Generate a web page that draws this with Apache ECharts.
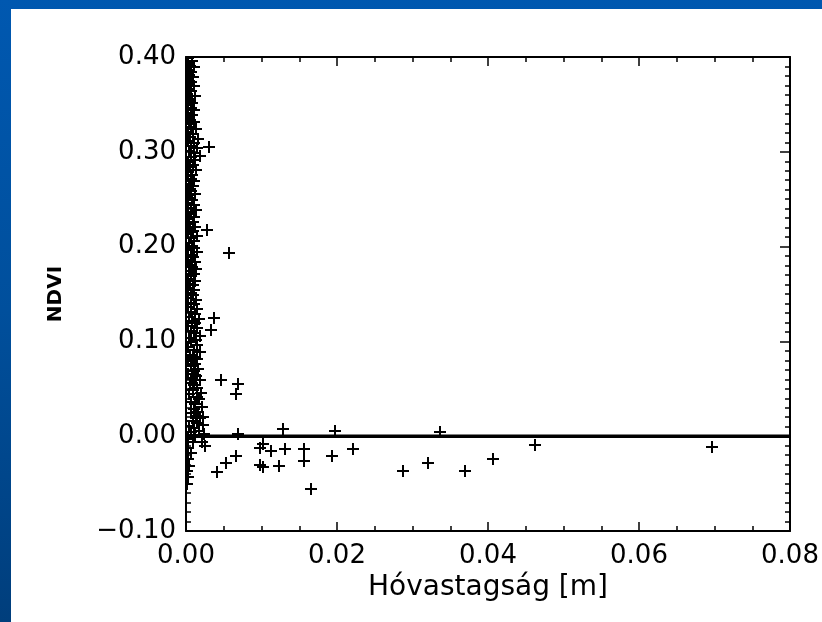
<!DOCTYPE html>
<html>
<head>
<meta charset="utf-8">
<script src="https://cdn.jsdelivr.net/npm/echarts@6/dist/echarts.min.js"></script>
<style>
  html, body { margin:0; padding:0; width:822px; height:622px; overflow:hidden; }
  body { background: linear-gradient(to bottom, #0058b0 0%, #004f9c 50%, #003e7c 100%); position:relative; }
  #paper { position:absolute; left:11px; top:9px; right:0; bottom:0; background:#ffffff; }
  #chart { position:absolute; left:0; top:0; width:822px; height:622px; }
</style>
</head>
<body>
<div id="paper"></div>
<div id="chart"></div>
<script>
// Dense group of observations with (almost) no snow: snow depth [m] and NDVI
var clusterDepth = [
  0.0003,0.0008,0.0001,0.0005,0.0011,0.0002,0.0007,0.0004,0.0009,0.0001,
  0.0006,0.0002,0.0010,0.0004,0.0007,0.0001,0.0012,0.0005,0.0003,0.0008,
  0.0002,0.0006,0.0010,0.0003,0.0008,0.0001,0.0005,0.0011,0.0004,0.0007,
  0.0013,0.0002,0.0009,0.0005,0.0016,0.0003,0.0011,0.0007,0.0014,0.0004,
  0.0010,0.0018,0.0006,0.0012,0.0002,0.0009,0.0005,0.0013,0.0003,0.0008,
  0.0001,0.0007,0.0011,0.0004,0.0009,0.0002,0.0006,0.0012,0.0005,0.0003,
  0.0008,0.0002,0.0010,0.0006,0.0013,0.0003,0.0007,0.0011,0.0004,0.0009,
  0.0002,0.0012,0.0005,0.0009,0.0003,0.0014,0.0007,0.0010,0.0004,0.0008,
  0.0011,0.0003,0.0015,0.0006,0.0009,0.0002,0.0012,0.0005,0.0008,0.0013,
  0.0004,0.0010,0.0007,0.0002,0.0012,0.0005,0.0009,0.0003,0.0011,0.0006,
  0.0009,0.0003,0.0013,0.0006,0.0010,0.0002,0.0015,0.0007,0.0012,0.0004,
  0.0017,0.0008,0.0012,0.0003,0.0015,0.0006,0.0010,0.0019,0.0004,0.0013,
  0.0007,0.0014,0.0003,0.0011,0.0018,0.0005,0.0009,0.0015,0.0002,0.0012,
  0.0006,0.0016,0.0010,0.0003,0.0013,0.0008,0.0019,0.0005,0.0011,0.0015,
  0.0009,0.0020,0.0004,0.0014,0.0017,0.0007,0.0012,0.0021,0.0010,0.0016,
  0.0006,0.0013,0.0018,0.0009,0.0015,0.0004,0.0011,0.0017,0.0007,0.0012,
  0.0002,0.0009,0.0003,0.0006,0.0002,0.0004,0.0001,0.0003,0.0001
];
var clusterNdvi = [
  0.399,0.396,0.394,0.391,0.389,0.386,0.384,0.381,0.379,0.376,
  0.374,0.371,0.369,0.366,0.364,0.361,0.359,0.356,0.354,0.351,
  0.349,0.346,0.344,0.341,0.339,0.336,0.334,0.331,0.329,0.326,
  0.324,0.321,0.319,0.316,0.314,0.311,0.309,0.306,0.304,0.301,
  0.299,0.296,0.294,0.291,0.289,0.286,0.284,0.281,0.279,0.276,
  0.274,0.271,0.269,0.266,0.264,0.261,0.259,0.256,0.254,0.251,
  0.249,0.246,0.244,0.241,0.239,0.236,0.234,0.231,0.229,0.226,
  0.224,0.221,0.219,0.216,0.214,0.211,0.209,0.206,0.204,0.201,
  0.199,0.196,0.194,0.191,0.189,0.186,0.184,0.181,0.179,0.176,
  0.174,0.171,0.169,0.166,0.164,0.161,0.159,0.156,0.154,0.151,
  0.149,0.146,0.144,0.141,0.139,0.136,0.134,0.131,0.129,0.126,
  0.124,0.121,0.119,0.116,0.114,0.111,0.109,0.106,0.104,0.101,
  0.099,0.096,0.094,0.091,0.089,0.086,0.084,0.081,0.079,0.076,
  0.074,0.071,0.069,0.066,0.064,0.061,0.059,0.056,0.054,0.051,
  0.049,0.046,0.044,0.041,0.039,0.036,0.034,0.031,0.029,0.026,
  0.024,0.021,0.019,0.016,0.014,0.011,0.009,0.006,0.004,0.001,
  -0.003,-0.006,-0.012,-0.018,-0.024,-0.031,-0.037,-0.043,-0.050
];
// Scattered observations
var scatterDepth = [
  0.0031,0.0028,0.0057,0.0037,0.0033,0.0046,0.0069,0.0066,0.0021,0.0023,0.0022,0.0024,0.0069,0.0128,0.0197,0.0337,
  0.0021,0.0025,0.0041,0.0053,0.0066,0.0098,0.0102,0.0098,0.0102,0.0113,0.0131,0.0123,0.0156,0.0156,0.0166,0.0193,0.0221,
  0.0288,0.0321,0.0370,0.0407,0.0462,0.0697
];
var scatterNdvi = [
  0.305,0.218,0.193,0.125,0.112,0.059,0.055,0.045,0.031,0.020,0.012,0.002,0.002,0.008,0.005,0.004,
  -0.006,-0.010,-0.038,-0.028,-0.021,-0.012,-0.008,-0.030,-0.033,-0.016,-0.014,-0.031,-0.014,-0.026,-0.056,-0.021,-0.014,
  -0.037,-0.028,-0.037,-0.024,-0.009,-0.011
];
// Reference line at NDVI = 0
var zeroLineX = [0, 0.08];
var zeroLineY = [0, 0];
// Axis ranges / ticks
var xMin = 0, xMax = 0.08, xStep = 0.02;
var yMin = -0.10, yMax = 0.40, yStep = 0.10;
var xTitle = 'Hóvastagság [m]';
var yTitle = 'NDVI';

var points = clusterDepth.map(function (x, i) { return [x, clusterNdvi[i]]; })
  .concat(scatterDepth.map(function (x, i) { return [x, scatterNdvi[i]]; }));
var zeroLine = zeroLineX.map(function (x, i) { return [x, zeroLineY[i]]; });

var FONT = 'DejaVu Sans';
function fmt(v) {
  var s = Math.abs(v).toFixed(2);
  return v < -1e-9 ? '\u2212' + s : s;
}
var axisLineStyle = { color: '#000', width: 2 };
var tickStyle = { color: '#000', width: 1.5 };

var chart = echarts.init(document.getElementById('chart'), null, { renderer: 'canvas' });
chart.setOption({
  backgroundColor: 'transparent',
  animation: false,
  grid: { left: 186, right: 32, top: 57, bottom: 91, containLabel: false, outerBoundsMode: 'none' },
  xAxis: [{
    type: 'value', position: 'bottom', min: xMin, max: xMax, interval: xStep,
    axisLine: { show: true, onZero: false, lineStyle: axisLineStyle },
    axisTick: { show: true, inside: true, length: 9, lineStyle: tickStyle },
    minorTick: { show: true, splitNumber: 4, length: 5, lineStyle: tickStyle },
    splitLine: { show: false },
    axisLabel: { show: true, margin: 12, color: '#000', fontFamily: FONT, fontSize: 26, formatter: fmt, showMinLabel: true, showMaxLabel: true },
    name: xTitle, nameLocation: 'middle', nameGap: 41,
    nameTextStyle: { color: '#000', fontFamily: FONT, fontSize: 28 }
  }, {
    type: 'value', position: 'top', min: xMin, max: xMax, interval: xStep,
    axisLine: { show: true, onZero: false, lineStyle: axisLineStyle },
    axisTick: { show: true, inside: true, length: 9, lineStyle: tickStyle },
    minorTick: { show: true, splitNumber: 4, length: 5, lineStyle: tickStyle },
    splitLine: { show: false }, axisLabel: { show: false }
  }],
  yAxis: [{
    type: 'value', position: 'left', min: yMin, max: yMax, interval: yStep,
    axisLine: { show: true, onZero: false, lineStyle: axisLineStyle },
    axisTick: { show: true, inside: true, length: 10, lineStyle: tickStyle },
    minorTick: { show: true, splitNumber: 10, length: 5, lineStyle: tickStyle },
    splitLine: { show: false },
    axisLabel: { show: true, margin: 10, color: '#000', fontFamily: FONT, fontSize: 26, formatter: fmt, showMinLabel: true, showMaxLabel: true },
    name: yTitle, nameLocation: 'middle', nameGap: 120, nameRotate: 90,
    nameTextStyle: { color: '#000', fontFamily: FONT, fontSize: 20, fontWeight: 'bold' }
  }, {
    type: 'value', position: 'right', min: yMin, max: yMax, interval: yStep,
    axisLine: { show: true, onZero: false, lineStyle: axisLineStyle },
    axisTick: { show: true, inside: true, length: 10, lineStyle: tickStyle },
    minorTick: { show: true, splitNumber: 10, length: 5, lineStyle: tickStyle },
    splitLine: { show: false }, axisLabel: { show: false }
  }],
  series: [{
    type: 'line', data: zeroLine, xAxisIndex: 0, yAxisIndex: 0,
    symbol: 'none', lineStyle: { color: '#000', width: 3.5 }, silent: true, z: 3
  }, {
    type: 'custom', data: points, xAxisIndex: 0, yAxisIndex: 0, clip: true, z: 4,
    renderItem: function (params, api) {
      var p = api.coord([api.value(0), api.value(1)]);
      var cx = Math.round(p[0]), cy = Math.round(p[1]);
      var h = 6;
      var st = { stroke: '#000', lineWidth: 2, fill: null };
      return {
        type: 'group',
        children: [
          { type: 'line', shape: { x1: cx - h, y1: cy, x2: cx + h, y2: cy }, style: st },
          { type: 'line', shape: { x1: cx, y1: cy - h, x2: cx, y2: cy + h }, style: st }
        ]
      };
    }
  }]
});
</script>
</body>
</html>
